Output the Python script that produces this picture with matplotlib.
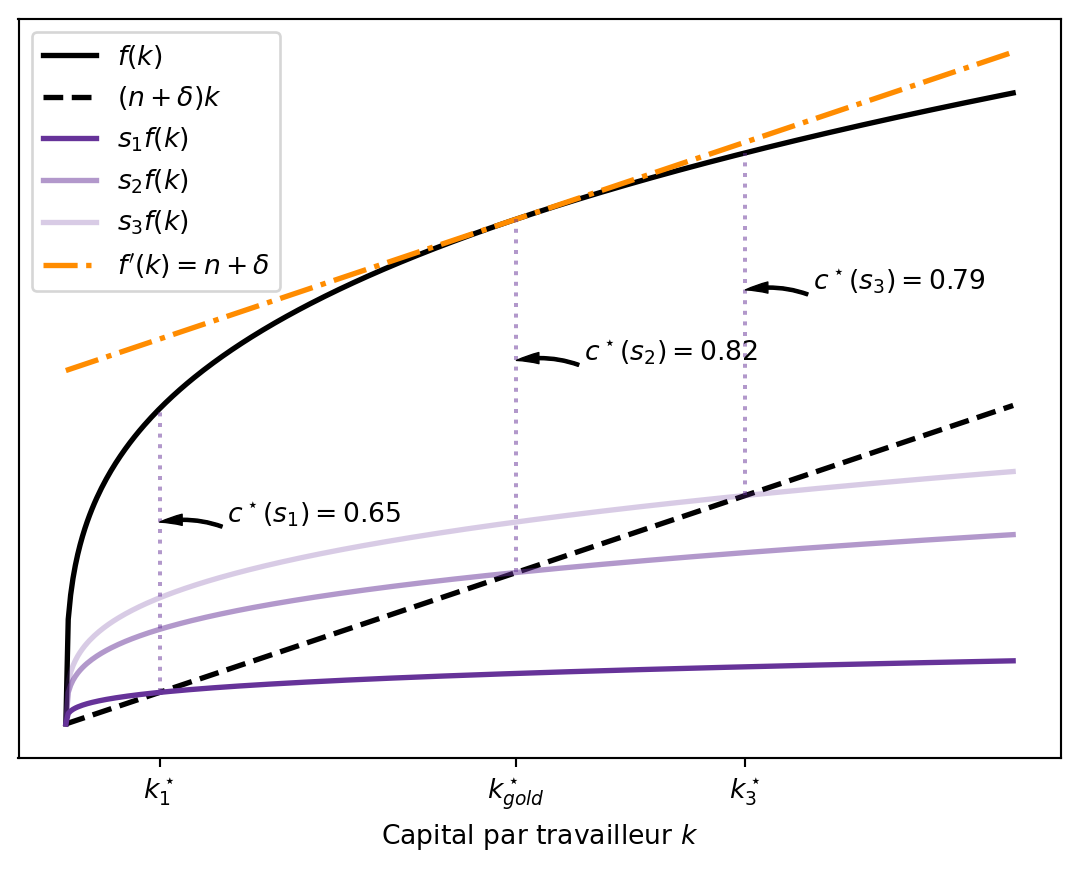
import matplotlib
matplotlib.use("Agg")
import matplotlib.pyplot as plt
import numpy as np

# Solow model parameters
ALPHA = 0.3            # f(k) = k**alpha
N_DELTA = 0.21         # n + delta
SAVINGS = [0.1, 0.3, 0.4]   # s1, s2 (golden rule), s3
K_MAX = 3.5
N_POINTS = 400

SAVING_LABELS = ["$s_1f(k)$", "$s_2f(k)$", "$s_3f(k)$"]
SAVING_ALPHAS = [1.0, 0.5, 0.25]
TICK_LABELS = ["$k_1^\\star$", "$k_{gold}^\\star$", "$k_3^\\star$"]
C_NAMES = ["s_1", "s_2", "s_3"]

PURPLE = "rebeccapurple"
ORANGE = "darkorange"

DPI = 192
fig = plt.figure(figsize=(1080 / DPI, 870 / DPI), dpi=DPI)
ax = fig.add_axes([18.5 / 1080, 1 - 757.5 / 870, 1042 / 1080, 739 / 870])

k = np.linspace(0, K_MAX, N_POINTS)
f = k ** ALPHA

ax.plot(k, f, color="black", lw=2, label="$f(k)$")
ax.plot(k, N_DELTA * k, color="black", lw=2, ls="--", label="$(n+\\delta)k$")
for s, lab, a in zip(SAVINGS, SAVING_LABELS, SAVING_ALPHAS):
    ax.plot(k, s * f, color=PURPLE, alpha=a, lw=2, label=lab)

# steady states
k_star = [(s / N_DELTA) ** (1 / (1 - ALPHA)) for s in SAVINGS]
k_gold = k_star[1]
f_gold = k_gold ** ALPHA
tangent = f_gold + N_DELTA * (k - k_gold)
ax.plot(k, tangent, color=ORANGE, lw=2, ls="-.", label="$f'(k)=n+\\delta$")

for ks, s, name in zip(k_star, SAVINGS, C_NAMES):
    fk = ks ** ALPHA
    inv = s * fk
    c = fk - inv
    ax.plot([ks, ks], [inv, fk], color=PURPLE, alpha=0.5, lw=1.5, ls=":")
    y_tip = inv + 0.6 * c
    ax.annotate(f"$c^\\star({name}) = {c:.2f}$",
                xy=(ks, y_tip), xytext=(ks + 0.25, y_tip),
                arrowprops=dict(facecolor="black", edgecolor="black", lw=0.5,
                                width=1.2, headwidth=4.2, headlength=8.5,
                                connectionstyle="arc3,rad=0.15"))

ax.set_xticks(k_star)
ax.set_xticklabels(TICK_LABELS)
ax.set_yticks([])
ax.set_xlabel("Capital par travailleur $k$")
ax.legend(loc="upper left")

fig.savefig("out.png", dpi=DPI)
